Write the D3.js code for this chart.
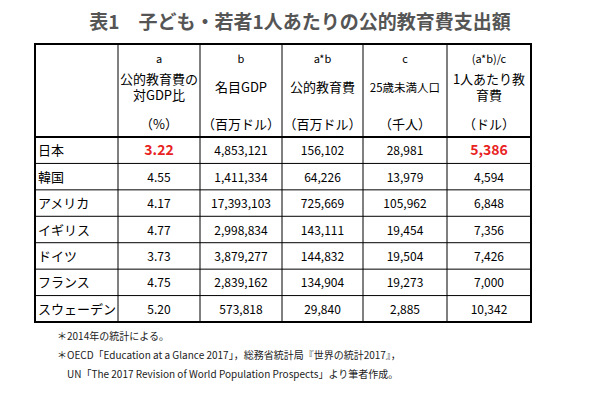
<!DOCTYPE html>
<html><head><meta charset="utf-8">
<script src="https://cdn.jsdelivr.net/npm/d3@7"></script>
<style>body{margin:0;background:#fff}</style>
</head><body>
<svg id="chart" width="600" height="411"></svg>
<script>
const countries = ["日本","韓国","アメリカ","イギリス","ドイツ","フランス","スウェーデン"];
const ratio = ["3.22","4.55","4.17","4.77","3.73","4.75","5.20"];
const gdp = ["4,853,121","1,411,334","17,393,103","2,998,834","3,879,277","2,839,162","573,818"];
const eduSpend = ["156,102","64,226","725,669","143,111","144,832","134,904","29,840"];
const youth = ["28,981","13,979","105,962","19,454","19,504","19,273","2,885"];
const perHead = ["5,386","4,594","6,848","7,356","7,426","7,000","10,342"];
const headLetters = ["a","b","a*b","c","(a*b)/c"];
const headNames = [["公的教育費の","対GDP比"],["名目GDP"],["公的教育費"],["25歳未満人口"],["1人あたり教","育費"]];
const headUnits = ["（%）","（百万ドル）","（百万ドル）","（千人）","（ドル）"];
const notes = ["＊2014年の統計による。",
  "＊OECD「Education at a Glance 2017」，総務省統計局『世界の統計2017』，",
  "　UN「The 2017 Revision of World Population Prospects」より筆者作成。"];

const svg = d3.select("#chart");
const font = "'Noto Sans CJK JP', sans-serif";
const colEdges = [35,118,200,282,363,447,531];
const tableTop = 44, headBottom = 137, tableBottom = 322;
const y = d3.scaleBand().domain(countries).range([headBottom, tableBottom]);
const cols = [ratio,gdp,eduSpend,youth,perHead];

svg.append("text").attr("x",300).attr("y",29).attr("text-anchor","middle")
  .attr("font-family",font).attr("font-size",19).attr("font-weight","bold").attr("fill","#555")
  .text("表1　子ども・若者1人あたりの公的教育費支出額");

// grid
const g = svg.append("g").attr("stroke","#000");
colEdges.slice(1,-1).forEach(x=>g.append("line").attr("x1",x).attr("x2",x).attr("y1",tableTop).attr("y2",tableBottom).attr("stroke-width",1));
countries.slice(1).forEach(c=>g.append("line").attr("x1",35).attr("x2",531).attr("y1",y(c)).attr("y2",y(c)).attr("stroke-width",1));
g.append("line").attr("x1",35).attr("x2",531).attr("y1",headBottom).attr("y2",headBottom).attr("stroke-width",2);
g.append("rect").attr("x",35).attr("y",tableTop).attr("width",496).attr("height",tableBottom-tableTop).attr("fill","none").attr("stroke-width",2);

const t = svg.append("g").attr("font-family",font).attr("font-size",12).attr("fill","#000");
headLetters.forEach((h,i)=>{
  const cx=(colEdges[i+1]+colEdges[i+2])/2;
  t.append("text").attr("x",cx).attr("y",63).attr("text-anchor","middle").attr("font-size",11).text(h);
  const names=headNames[i];
  names.forEach((n,j)=>t.append("text").attr("x",cx).attr("text-anchor","middle")
    .attr("y",names.length===1?92:84+j*16).attr("font-size",i===3?11.5:13).text(n));
  t.append("text").attr("x",cx).attr("y",129).attr("text-anchor","middle").attr("font-size",13).text(headUnits[i]);
});
countries.forEach((c,r)=>{
  const cy=y(c)+y.bandwidth()/2+5;
  t.append("text").attr("x",38).attr("y",cy).attr("font-size",13).text(c);
  cols.forEach((col,i)=>{
    const red = r===0 && (i===0||i===4);
    t.append("text").attr("x",(colEdges[i+1]+colEdges[i+2])/2).attr("y",cy).attr("text-anchor","middle")
      .attr("fill",red?"#e8231f":"#000").attr("font-weight",red?"bold":"normal")
      .attr("font-size",red?14:12).text(col[r]);
  });
});
notes.forEach((n,i)=>svg.append("text").attr("x",57).attr("y",340+i*19).attr("font-family",font)
  .attr("font-size",10).attr("fill","#222").text(n));
</script>
</body></html>
